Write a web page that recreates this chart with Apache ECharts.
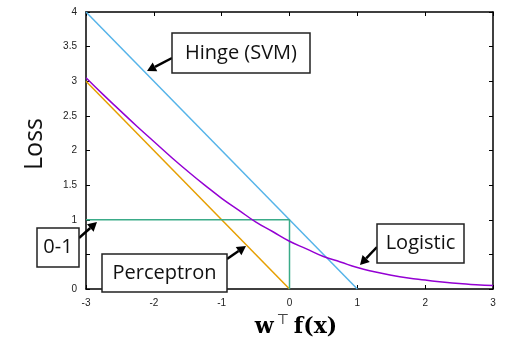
<!DOCTYPE html>
<html>
<head>
<meta charset="utf-8">
<script src="https://cdn.jsdelivr.net/npm/echarts@6/dist/echarts.min.js"></script>
<style>
  html, body { margin: 0; padding: 0; background: #fff; }
  #main { width: 505px; height: 343px; }
</style>
</head>
<body>
<div id="main"></div>
<script>
// values
var hingeData = [[-3, 4], [1, 0]];
var perceptronData = [[-3, 3], [0, 0]];
var zeroOneData = [[-3, 1], [0, 1], [0, 0]];
var logisticX = [-3, -2.75, -2.5, -2.25, -2, -1.75, -1.5, -1.25, -1, -0.75, -0.5, -0.25, 0,
                 0.25, 0.5, 0.75, 1, 1.25, 1.5, 1.75, 2, 2.25, 2.5, 2.75, 3];
var logisticY = [3.05, 2.81, 2.58, 2.35, 2.13, 1.91, 1.70, 1.50, 1.31, 1.14, 0.97, 0.83, 0.69,
                 0.58, 0.47, 0.39, 0.31, 0.25, 0.20, 0.16, 0.13, 0.10, 0.08, 0.06, 0.05];

var colors = {
    hinge: '#56B4E9',
    logistic: '#9400D3',
    perceptron: '#E69F00',
    zeroOne: '#3aab88'
};

var chart = echarts.init(document.getElementById('main'));

// annotation: box with label + arrow (pixel coords)
function arrow(x1, y1, x2, y2) {
    var ang = Math.atan2(y2 - y1, x2 - x1);
    var hl = 9, hw = 5;
    var bx = x2 - hl * Math.cos(ang), by = y2 - hl * Math.sin(ang);
    var px = -Math.sin(ang) * hw, py = Math.cos(ang) * hw;
    return [{
        type: 'line',
        shape: { x1: x1, y1: y1, x2: bx, y2: by },
        style: { stroke: '#000', lineWidth: 2.5 },
        z: 100
    }, {
        type: 'polygon',
        shape: { points: [[x2, y2], [bx + px, by + py], [bx - px, by - py]] },
        style: { fill: '#000' },
        z: 100
    }];
}
function box(x, y, w, h, txt) {
    return {
        type: 'group',
        z: 100,
        children: [{
            type: 'rect',
            shape: { x: x, y: y, width: w, height: h },
            style: { fill: '#fff', stroke: '#222', lineWidth: 1.5 },
            z: 100
        }, {
            type: 'text',
            x: x + w / 2,
            y: y + h / 2,
            style: {
                text: txt,
                font: '20px "Open Sans", sans-serif',
                fill: '#111',
                align: 'center',
                verticalAlign: 'middle'
            },
            z: 101
        }]
    };
}

var graphics = [].concat(
    arrow(172, 58, 147, 71), [box(172, 33, 138, 40, 'Hinge (SVM)')],
    arrow(79, 238, 97, 222), [box(37, 228, 42, 39, '0-1')],
    arrow(227, 259, 246, 246), [box(102, 254, 125, 38, 'Perceptron')],
    arrow(377, 247, 360, 265), [box(377, 224, 87, 39, 'Logistic')],
    [{
        type: 'text',
        x: 35, y: 144,
        rotation: Math.PI / 2,
        style: {
            text: 'Loss',
            font: '25px "Open Sans", sans-serif',
            fill: '#111',
            align: 'center',
            verticalAlign: 'middle'
        }
    }, {
        type: 'text',
        x: 296, y: 327,
        style: {
            text: '{w|w}{t|⊤}{f|f(x)}',
            align: 'center',
            verticalAlign: 'middle',
            rich: {
                w: { fontFamily: 'DejaVu Serif', fontWeight: 'bold', fontSize: 22, fill: '#000' },
                t: { fontFamily: 'DejaVu Sans', fontSize: 14, fill: '#000', padding: [0, 5, 14, 3] },
                f: { fontFamily: 'DejaVu Serif', fontWeight: 'bold', fontSize: 22, fill: '#000' }
            }
        }
    }]
);

var tickLabel = { fontFamily: 'Liberation Sans', fontSize: 10, color: '#222' };
var frameLine = { show: true, onZero: false, lineStyle: { color: '#000', width: 1.5 } };
var tick = { show: true, inside: true, length: 4, lineStyle: { color: '#000' } };

var option = {
    animation: false,
    grid: { left: 86, right: 12, top: 12, bottom: 54 },
    xAxis: [{
        type: 'value',
        position: 'bottom',
        min: -3, max: 3, interval: 1,
        axisLine: frameLine,
        axisTick: tick,
        axisLabel: Object.assign({ margin: 9 }, tickLabel),
        splitLine: { show: false }
    }, {
        type: 'value',
        position: 'top',
        min: -3, max: 3, interval: 1,
        axisLine: frameLine,
        axisTick: tick,
        axisLabel: { show: false },
        splitLine: { show: false }
    }],
    yAxis: [{
        type: 'value',
        position: 'left',
        min: 0, max: 4, interval: 0.5,
        axisLine: frameLine,
        axisTick: tick,
        axisLabel: Object.assign({ margin: 9 }, tickLabel),
        splitLine: { show: false }
    }, {
        type: 'value',
        position: 'right',
        min: 0, max: 4, interval: 0.5,
        axisLine: frameLine,
        axisTick: tick,
        axisLabel: { show: false },
        splitLine: { show: false }
    }],
    series: [{
        name: 'Hinge (SVM)',
        type: 'line',
        data: hingeData,
        showSymbol: false,
        lineStyle: { color: colors.hinge, width: 1.5 },
        z: 3
    }, {
        name: 'Perceptron',
        type: 'line',
        data: perceptronData,
        showSymbol: false,
        lineStyle: { color: colors.perceptron, width: 1.5 },
        z: 3
    }, {
        name: '0-1',
        type: 'line',
        data: zeroOneData,
        showSymbol: false,
        lineStyle: { color: colors.zeroOne, width: 1.5 },
        z: 3
    }, {
        name: 'Logistic',
        type: 'line',
        data: logisticX.map(function (x, i) { return [x, logisticY[i]]; }),
        smooth: true,
        showSymbol: false,
        lineStyle: { color: colors.logistic, width: 1.5 },
        z: 4
    }],
    graphic: graphics
};

chart.setOption(option);
</script>
</body>
</html>
